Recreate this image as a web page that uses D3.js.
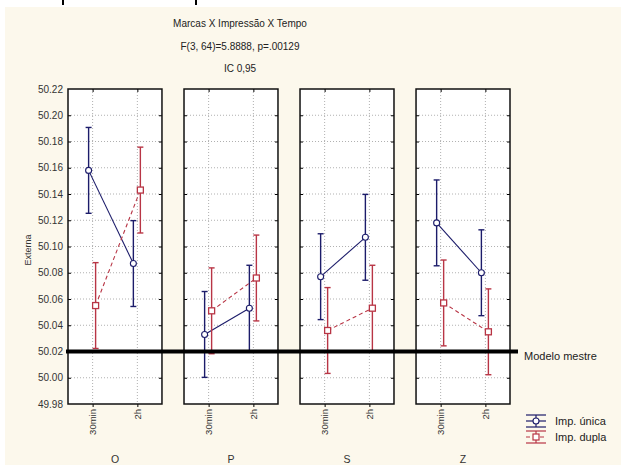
<!DOCTYPE html>
<html>
<head>
<meta charset="utf-8">
<script src="https://cdn.jsdelivr.net/npm/d3@7"></script>
<style>
  body { margin: 0; background: #fff; }
  svg { display: block; font-family: "Liberation Sans", Arial, sans-serif; }
</style>
</head>
<body>
<div id="chart"></div>
<script>
// data
const brands = ["O", "P", "S", "Z"];
const times = ["30min", "2h"];
const unicaMeans = [[50.158, 50.087], [50.033, 50.053], [50.077, 50.107], [50.118, 50.080]];
const duplaMeans = [[50.055, 50.143], [50.051, 50.076], [50.036, 50.053], [50.057, 50.035]];
const ciHalf = 0.0327;
const yTicks = [49.98, 50.00, 50.02, 50.04, 50.06, 50.08, 50.10, 50.12, 50.14, 50.16, 50.18, 50.20, 50.22];
const referenceValue = 50.02;
const referenceLabel = "Modelo mestre";
const titleLines = ["Marcas X Impressão X Tempo", "F(3, 64)=5.8888, p=.00129", "IC 0,95"];
const seriesNames = ["Imp. única", "Imp. dupla"];
const yLabel = "Externa";

const width = 621, height = 465;
const plotTop = 89, plotBottom = 404;

const series = [
  { name: seriesNames[0], means: unicaMeans, color: "#1c1c6a", dash: null, offset: -4, marker: "circle" },
  { name: seriesNames[1], means: duplaMeans, color: "#b83545", dash: "4,3", offset: 3, marker: "square" }
];

const svg = d3.select("#chart")
  .append("svg")
  .attr("width", width)
  .attr("height", height);

// beige background, white strip on top
svg.append("rect")
  .attr("x", 5).attr("y", 7)
  .attr("width", width - 5).attr("height", height - 7)
  .attr("fill", "#fcf8ec");
svg.selectAll("line.mark")
  .data([63, 196])
  .join("line")
  .attr("x1", d => d).attr("x2", d => d)
  .attr("y1", 0).attr("y2", 5)
  .attr("stroke", "#000").attr("stroke-width", 2);

// title
svg.append("g")
  .attr("fill", "#222")
  .attr("font-size", 10)
  .selectAll("text")
  .data(titleLines)
  .join("text")
  .attr("x", 240)
  .attr("y", (d, i) => 27 + i * 22.5)
  .attr("text-anchor", "middle")
  .text(d => d);

const y = d3.scaleLinear()
  .domain([yTicks[0], yTicks[yTicks.length - 1]])
  .range([plotBottom, plotTop]);

const panel = d3.scaleBand()
  .domain(brands)
  .range([68, 510])
  .paddingInner(0.19)
  .paddingOuter(0);

const pw = panel.bandwidth();

const x = d3.scalePoint()
  .domain(times)
  .range([0, pw])
  .padding(0.55);

// y axis labels
svg.append("g")
  .attr("transform", `translate(${panel(brands[0])},0)`)
  .call(d3.axisLeft(y).tickValues(yTicks).tickFormat(d3.format(".2f")).tickSize(0).tickPadding(5))
  .call(g => g.select(".domain").remove())
  .selectAll("text")
  .attr("font-size", 10)
  .attr("fill", "#333");

svg.append("text")
  .attr("transform", `translate(28, 250) rotate(-90)`)
  .attr("text-anchor", "middle")
  .attr("dy", "0.35em")
  .attr("font-size", 9)
  .attr("fill", "#333")
  .text(yLabel);

brands.forEach((brand, bi) => {
  const g = svg.append("g").attr("transform", `translate(${panel(brand)},0)`);

  g.append("rect")
    .attr("x", 0).attr("y", plotTop)
    .attr("width", pw).attr("height", plotBottom - plotTop)
    .attr("fill", "#fff");

  // grid
  g.append("g")
    .selectAll("line")
    .data(yTicks.slice(1, -1))
    .join("line")
    .attr("x1", 0).attr("x2", pw)
    .attr("y1", d => y(d)).attr("y2", d => y(d))
    .attr("stroke", "#b0b0b0").attr("stroke-dasharray", "1,2");
  g.append("g")
    .selectAll("line")
    .data(times)
    .join("line")
    .attr("x1", d => x(d)).attr("x2", d => x(d))
    .attr("y1", plotTop).attr("y2", plotBottom)
    .attr("stroke", "#b0b0b0").attr("stroke-dasharray", "1,2");

  series.forEach(s => {
    const vals = s.means[bi];

    // line between times
    g.append("path")
      .datum(times)
      .attr("fill", "none")
      .attr("stroke", s.color)
      .attr("stroke-width", 1.1)
      .attr("stroke-dasharray", s.dash)
      .attr("d", d3.line().x(t => x(t) + s.offset).y((t, i) => y(vals[i])));

    // error bars
    const eb = g.append("g").attr("stroke", s.color).attr("stroke-width", 1.4);
    eb.selectAll("line.v")
      .data(times)
      .join("line")
      .attr("x1", t => x(t) + s.offset).attr("x2", t => x(t) + s.offset)
      .attr("y1", (t, i) => y(vals[i] - ciHalf)).attr("y2", (t, i) => y(vals[i] + ciHalf));
    [-1, 1].forEach(sign => {
      eb.selectAll("line.cap" + (sign + 1))
        .data(times)
        .join("line")
        .attr("x1", t => x(t) + s.offset - 3).attr("x2", t => x(t) + s.offset + 3)
        .attr("y1", (t, i) => y(vals[i] + sign * ciHalf)).attr("y2", (t, i) => y(vals[i] + sign * ciHalf));
    });

    // markers
    if (s.marker == "circle") {
      g.selectAll(null)
        .data(times)
        .join("circle")
        .attr("cx", t => x(t) + s.offset)
        .attr("cy", (t, i) => y(vals[i]))
        .attr("r", 3)
        .attr("fill", "#fff").attr("stroke", s.color).attr("stroke-width", 1.1);
    } else {
      g.selectAll(null)
        .data(times)
        .join("rect")
        .attr("x", t => x(t) + s.offset - 3)
        .attr("y", (t, i) => y(vals[i]) - 3)
        .attr("width", 6).attr("height", 6)
        .attr("fill", "#fff").attr("stroke", s.color).attr("stroke-width", 1.3);
    }
  });

  // inward ticks
  g.append("g").call(d3.axisRight(y).tickValues(yTicks.slice(1, -1)).tickSize(3).tickFormat(""))
    .call(a => a.select(".domain").remove());
  g.append("g").attr("transform", `translate(${pw},0)`)
    .call(d3.axisLeft(y).tickValues(yTicks.slice(1, -1)).tickSize(3).tickFormat(""))
    .call(a => a.select(".domain").remove());
  g.append("g").attr("transform", `translate(0,${plotTop})`)
    .call(d3.axisBottom(x).tickSize(3).tickFormat(""))
    .call(a => a.select(".domain").remove());

  // bottom axis
  g.append("g")
    .attr("transform", `translate(0,${plotBottom})`)
    .call(d3.axisBottom(x).tickSize(3).tickPadding(4))
    .call(a => a.select(".domain").remove())
    .selectAll("text")
    .attr("font-size", 9.5)
    .attr("fill", "#333")
    .attr("transform", "rotate(-90)")
    .attr("text-anchor", "end")
    .attr("x", -5)
    .attr("y", 0)
    .attr("dy", "0.35em");

  g.append("rect")
    .attr("x", 0).attr("y", plotTop)
    .attr("width", pw).attr("height", plotBottom - plotTop)
    .attr("fill", "none")
    .attr("stroke", "#111").attr("stroke-width", 1.5);

  g.append("text")
    .attr("x", pw / 2)
    .attr("y", 463)
    .attr("text-anchor", "middle")
    .attr("font-size", 10.5)
    .attr("fill", "#333")
    .text(brand);
});

// reference line
svg.append("line")
  .attr("x1", 66).attr("x2", 518)
  .attr("y1", y(referenceValue)).attr("y2", y(referenceValue))
  .attr("stroke", "#000").attr("stroke-width", 4);
svg.append("text")
  .attr("x", 524)
  .attr("y", y(referenceValue) + 5)
  .attr("dy", "0.35em")
  .attr("font-size", 11)
  .attr("fill", "#222")
  .text(referenceLabel);

// legend
const legend = svg.append("g")
  .selectAll("g")
  .data(series)
  .join("g")
  .attr("transform", (d, i) => `translate(536, ${421 + i * 16})`);
legend.append("line")
  .attr("x1", -10).attr("x2", 10)
  .attr("stroke", d => d.color).attr("stroke-width", 1.2)
  .attr("stroke-dasharray", d => d.dash);
legend.append("line")
  .attr("y1", -6).attr("y2", 6)
  .attr("stroke", d => d.color).attr("stroke-width", 1.2);
legend.selectAll("line.cap")
  .data(d => [[d, -6], [d, 6]])
  .join("line")
  .attr("x1", -10).attr("x2", 10)
  .attr("y1", d => d[1]).attr("y2", d => d[1])
  .attr("stroke", d => d[0].color).attr("stroke-width", 1.2);
legend.filter(d => d.marker == "circle").append("circle")
  .attr("r", 3).attr("fill", "#fff").attr("stroke", d => d.color).attr("stroke-width", 1.1);
legend.filter(d => d.marker == "square").append("rect")
  .attr("x", -3).attr("y", -3).attr("width", 6).attr("height", 6)
  .attr("fill", "#fff").attr("stroke", d => d.color).attr("stroke-width", 1.2);
legend.append("text")
  .attr("x", 19)
  .attr("dy", "0.35em")
  .attr("font-size", 11)
  .attr("fill", "#222")
  .text(d => d.name);
</script>
</body>
</html>
